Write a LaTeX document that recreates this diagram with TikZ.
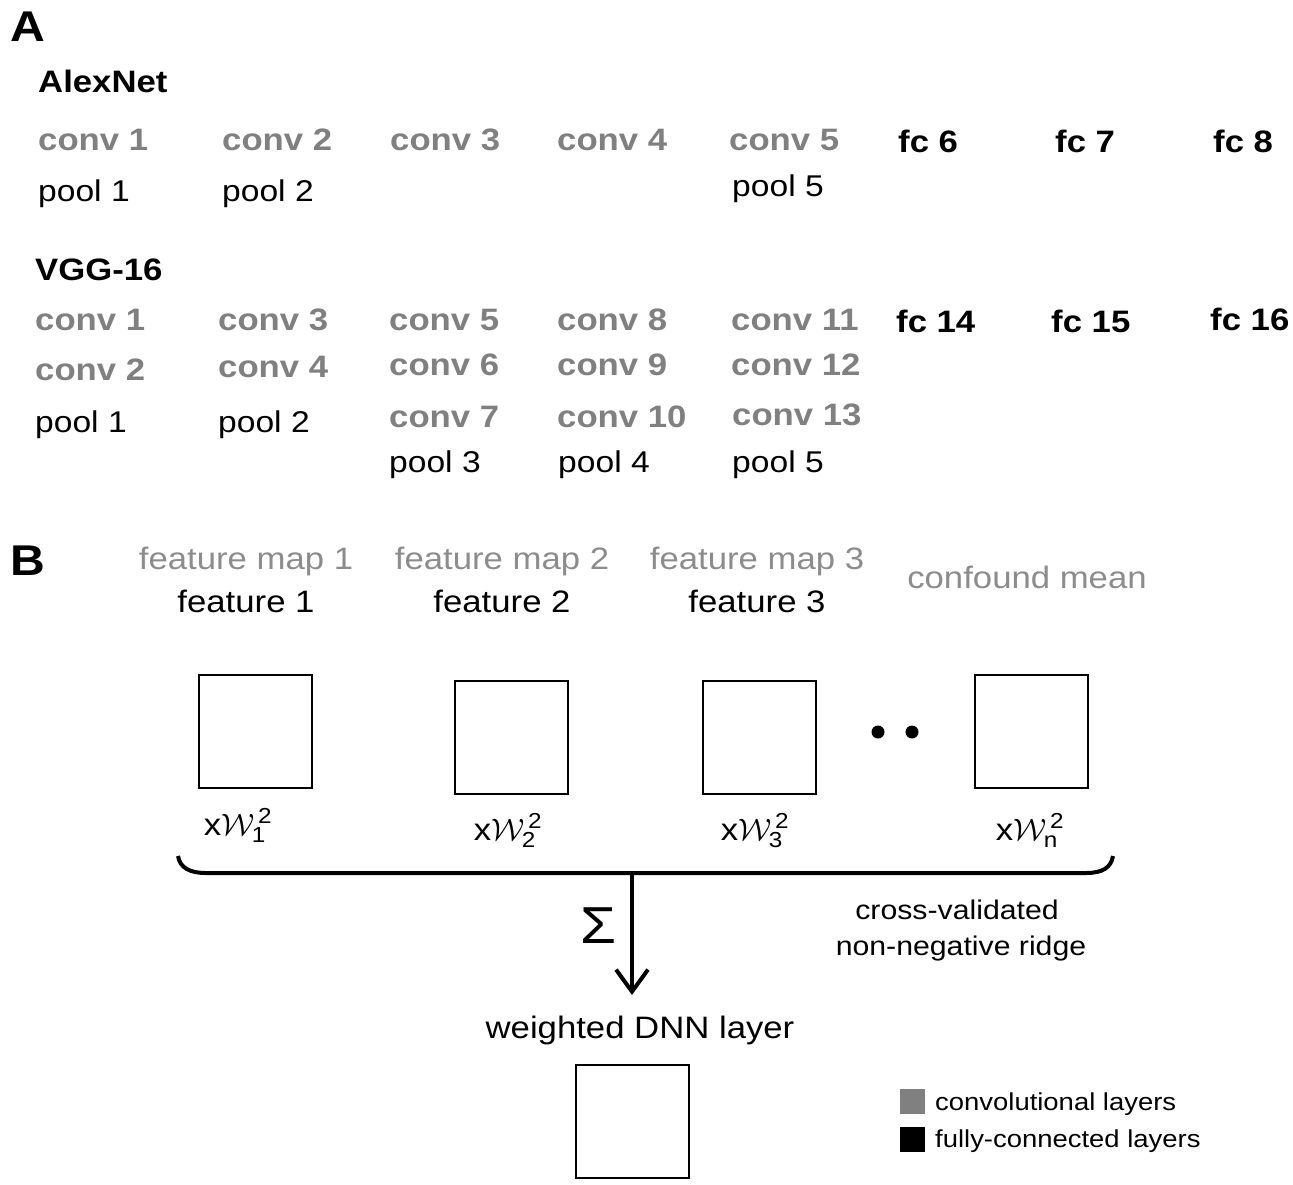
\RequirePackage{fix-cm}
\documentclass[tikz,border=0pt]{standalone}
\usepackage{amsmath}
\usepackage{fontspec}
\setmainfont{Liberation Sans}[FakeStretch=1.12]
\usetikzlibrary{arrows.meta}
\definecolor{convgray}{RGB}{128,128,128}
\definecolor{mapgray}{RGB}{140,140,140}
\newcommand{\wlabel}[1]{x$\mathcal{W}^{\,\text{2}}_{\text{#1}}$}

\begin{document}
\begin{tikzpicture}[x=1pt,y=-1pt,
    every node/.style={inner sep=0pt},
    panel/.style={anchor=base west,font=\fontsize{43}{46}\selectfont\bfseries},
    netname/.style={anchor=base west,font=\fontsize{31}{34}\selectfont\bfseries},
    convlayer/.style={anchor=base west,text=convgray,font=\fontsize{31}{34}\selectfont\bfseries},
    fclayer/.style={anchor=base west,font=\fontsize{31}{34}\selectfont\bfseries},
    poollayer/.style={anchor=base west,font=\fontsize{30}{34}\selectfont},
    maplabel/.style={anchor=base,text=mapgray,font=\fontsize{31}{34}\selectfont},
    featlabel/.style={anchor=base,font=\fontsize{31}{34}\selectfont},
    mapbox/.style={draw,line width=2pt,minimum width=113pt,minimum height=113pt},
    weight/.style={anchor=base,font=\fontsize{31}{34}\selectfont},
    note/.style={anchor=base,font=\fontsize{27}{30}\selectfont},
    legendtext/.style={anchor=base west,font=\fontsize{24.5}{28}\selectfont}]
    \useasboundingbox (0,0) rectangle (1293,1184);

    % panel A
    \node[panel] (A) at (10,41) {A};
    \node[netname] (alexnet) at (38,92) {AlexNet};
    \node[convlayer] (aconv1) at (38,150) {conv 1};
    \node[convlayer] (aconv2) at (222,150) {conv 2};
    \node[convlayer] (aconv3) at (390,150) {conv 3};
    \node[convlayer] (aconv4) at (557,150) {conv 4};
    \node[convlayer] (aconv5) at (729,150) {conv 5};
    \node[fclayer] (afc6) at (898,152) {fc 6};
    \node[fclayer] (afc7) at (1055,152) {fc 7};
    \node[fclayer] (afc8) at (1213,152) {fc 8};
    \node[poollayer] (apool1) at (38,201) {pool 1};
    \node[poollayer] (apool2) at (222,201) {pool 2};
    \node[poollayer] (apool5) at (732,196) {pool 5};

    \node[netname] (vgg) at (35,280) {VGG-16};
    \node[convlayer] (vconv1) at (35,330) {conv 1};
    \node[convlayer] (vconv3) at (218,330) {conv 3};
    \node[convlayer] (vconv5) at (389,330) {conv 5};
    \node[convlayer] (vconv8) at (557,330) {conv 8};
    \node[convlayer] (vconv11) at (731,330) {conv 11};
    \node[fclayer] (vfc14) at (896,332) {fc 14};
    \node[fclayer] (vfc15) at (1051,332) {fc 15};
    \node[fclayer] (vfc16) at (1210,330) {fc 16};
    \node[convlayer] (vconv2) at (35,380) {conv 2};
    \node[convlayer] (vconv4) at (218,377) {conv 4};
    \node[convlayer] (vconv6) at (389,375) {conv 6};
    \node[convlayer] (vconv9) at (557,375) {conv 9};
    \node[convlayer] (vconv12) at (731,375) {conv 12};
    \node[poollayer] (vpool1) at (35,432) {pool 1};
    \node[poollayer] (vpool2) at (218,432) {pool 2};
    \node[convlayer] (vconv7) at (389,427) {conv 7};
    \node[convlayer] (vconv10) at (557,427) {conv 10};
    \node[convlayer] (vconv13) at (732,425) {conv 13};
    \node[poollayer] (vpool3) at (389,472) {pool 3};
    \node[poollayer] (vpool4) at (558,472) {pool 4};
    \node[poollayer] (vpool5) at (732,472) {pool 5};

    % panel B
    \node[panel] (B) at (10,575) {B};
    \node[maplabel] (map1) at (246,569) {feature map 1};
    \node[featlabel] (feat1) at (246,612) {feature 1};
    \node[maplabel] (map2) at (502,569) {feature map 2};
    \node[featlabel] (feat2) at (502,612) {feature 2};
    \node[maplabel] (map3) at (757,569) {feature map 3};
    \node[featlabel] (feat3) at (757,612) {feature 3};
    \node[maplabel] (confound) at (1027,588) {confound mean};

    \node[mapbox] (box1) at (255,731) {};
    \node[mapbox] (box2) at (511,737) {};
    \node[mapbox] (box3) at (759,737) {};
    \node[mapbox] (boxn) at (1031,731) {};
    \fill (878,732) circle (6.5) (912,732) circle (6.5);

    \node[weight] (w1) at (238,835) {\wlabel{1}};
    \node[weight] (w2) at (508,840) {\wlabel{2}};
    \node[weight] (w3) at (755,840) {\wlabel{3}};
    \node[weight] (wn) at (1030,840) {\wlabel{n}};

    % brace and sum
    \coordinate (braceL) at (178,856);
    \coordinate (braceR) at (1113,856);
    \coordinate (bracemid) at (632,873);
    \draw[line width=4pt] (braceL) .. controls (180,868) and (190,873) .. (206,873)
        -- (1086,873) .. controls (1102,873) and (1111,868) .. (braceR);
    \node[anchor=base,font=\fontsize{52}{56}\selectfont] (sigma) at (598,943) {Σ};
    \node[note] (cv1) at (957,919) {cross-validated};
    \node[note] (cv2) at (961,955) {non-negative ridge};

    \node[featlabel] (dnn) at (640,1038) {weighted DNN layer};
    \draw[line width=4pt,-{Straight Barb[length=22pt,width=32pt,line width=4pt]}]
        (bracemid) -- (632,995);
    \node[mapbox] (dnnbox) at (632,1121) {};

    % legend
    \node[fill=convgray,minimum size=25pt] (convkey) at (912,1101) {};
    \node[fill=black,minimum size=25pt] (fckey) at (912,1139) {};
    \node[legendtext] (convtext) at (935,1110) {convolutional layers};
    \node[legendtext] (fctext) at (935,1147) {fully-connected layers};
\end{tikzpicture}
\end{document}
